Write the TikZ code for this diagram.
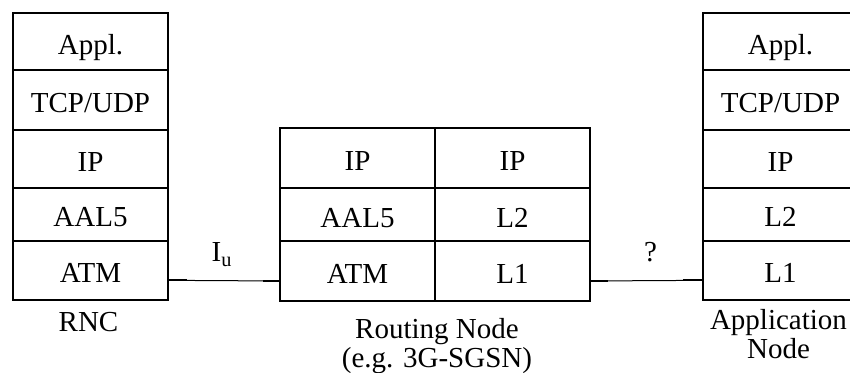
\documentclass[tikz,border=0pt]{standalone}
\usepackage{fontspec}
\setmainfont{Liberation Serif}
\usetikzlibrary{positioning}

\begin{document}
\begin{tikzpicture}[x=1pt, y=1pt,
    layer/.style={draw, line width=1pt, minimum width=77.5pt, inner sep=0pt, outer sep=0pt,
                  text height=12.6pt, text depth=0pt, font=\fontsize{14.5}{15}\selectfont},
    caption/.style={inner sep=0pt, align=center, font=\fontsize{14.5}{14.2}\selectfont},
    iflabel/.style={midway, inner sep=0pt, font=\fontsize{14.5}{15}\selectfont},
    link/.style={line width=0.5pt},
    stub/.style={line width=1pt}]
        \useasboundingbox (0,0) rectangle (425,186.5);

        % NODES
        % -----------------

        % RNC stack
        \node[layer, minimum height=28.8pt, anchor=north] (rnc_appl) at (45.25,180.15) {Appl.};
        \node[layer, minimum height=29.85pt, below=0pt of rnc_appl] (rnc_tcp)  {TCP/UDP};
        \node[layer, minimum height=28.85pt, below=0pt of rnc_tcp]  (rnc_ip)   {IP};
        \node[layer, minimum height=26.5pt,  below=0pt of rnc_ip]   (rnc_aal)  {AAL5};
        \node[layer, minimum height=29.65pt, below=0pt of rnc_aal]  (rnc_atm)  {ATM};
        \node[caption, below=6.2pt of rnc_atm, xshift=-1pt] (rnc) {RNC};

        % Routing node, two stacks side by side
        \node[layer, minimum height=30pt, anchor=north] (rn_ip) at (178.75,122.5) {IP};
        \node[layer, minimum height=26.5pt, below=0pt of rn_ip]  (rn_aal) {AAL5};
        \node[layer, minimum height=30pt,   below=0pt of rn_aal] (rn_atm) {ATM};
        \node[layer, minimum height=30pt,   right=0pt of rn_ip]  (rn_ip2) {IP};
        \node[layer, minimum height=26.5pt, below=0pt of rn_ip2] (rn_l2)  {L2};
        \node[layer, minimum height=30pt,   below=0pt of rn_l2]  (rn_l1)  {L1};
        \node[caption, below=8.6pt of rn_atm.south east, xshift=1pt] (rn) {Routing Node\\(e.g. 3G-SGSN)};

        % Application node stack (runs off the right edge)
        \node[layer, minimum height=28.8pt, anchor=north] (an_appl) at (390.25,180.15) {Appl.};
        \node[layer, minimum height=29.85pt, below=0pt of an_appl] (an_tcp) {TCP/UDP};
        \node[layer, minimum height=28.85pt, below=0pt of an_tcp]  (an_ip)  {IP};
        \node[layer, minimum height=26.5pt,  below=0pt of an_ip]   (an_l2)  {L2};
        \node[layer, minimum height=29.65pt, below=0pt of an_l2]   (an_l1)  {L1};
        \node[caption, below=4.6pt of an_l1, xshift=-1pt] (an) {Application\\Node};

        % EDGES
        % -----------------

        % Iu interface
        \draw[link] ([yshift=-5pt]rnc_atm.east) -- node[iflabel, yshift=13.1pt, xshift=-1pt] (iu) {I\textsubscript{u}} ([yshift=-5pt]rn_atm.west);
        \draw[stub] ([yshift=-5pt]rnc_atm.east) -- ++(9.5,0);
        \draw[stub] ([yshift=-5pt]rn_atm.west) -- ++(-8.5,0);

        % unknown interface
        \draw[link] ([yshift=-5pt]rn_l1.east) -- node[iflabel, yshift=14.1pt, xshift=2pt] (q) {?} ([yshift=-5pt]an_l1.west);
        \draw[stub] ([yshift=-5pt]rn_l1.east) -- ++(9,0);
        \draw[stub] ([yshift=-5pt]an_l1.west) -- ++(-10,0);

    \end{tikzpicture}
\end{document}
